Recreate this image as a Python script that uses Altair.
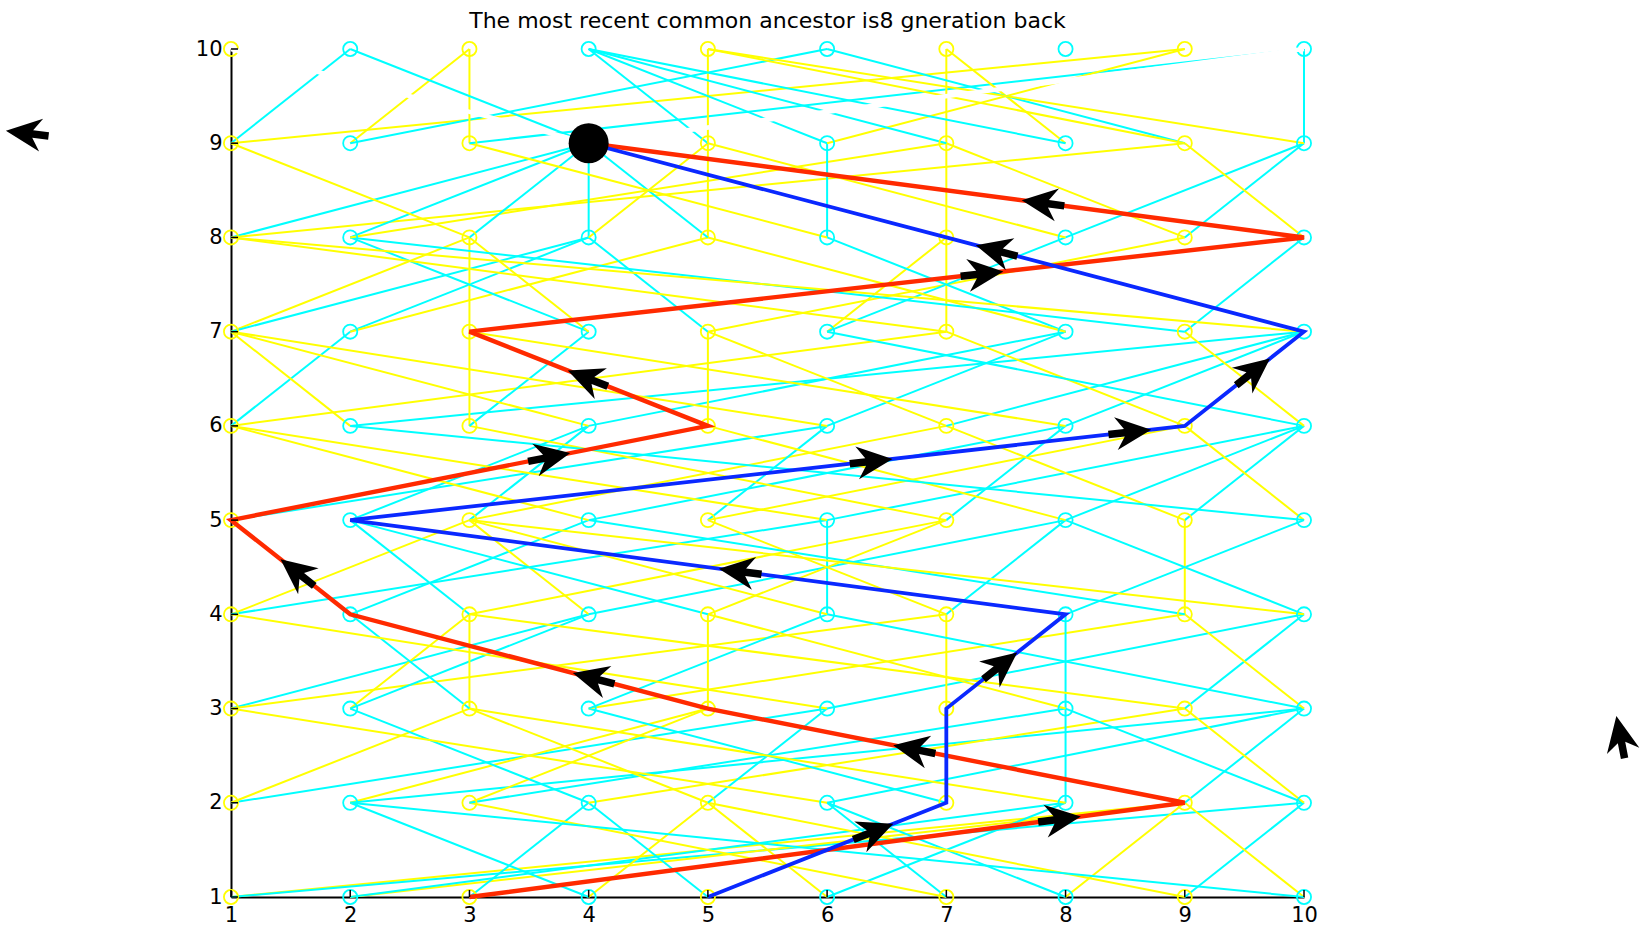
import math
import pandas as pd
import altair as alt

TITLE = "The most recent common ancestor is8 gneration back"
POSITIONS = list(range(1, 11))
GENERATIONS = list(range(1, 11))

# two parents (positions in generation g+1) of every individual 1..10 of generation g
GEN1_PARENT_A = [9, 9, 9, 2, 7, 5, 3, 9, 10, 9]
GEN1_PARENT_B = [10, 8, 4, 5, 4, 8, 6, 6, 5, 2]
GEN2_PARENT_A = [6, 5, 5, 2, 3, 1, 7, 8, 5, 8]
GEN2_PARENT_B = [3, 10, 8, 9, 6, 10, 4, 3, 10, 9]
GEN3_PARENT_A = [4, 3, 3, 9, 5, 1, 7, 8, 10, 6]
GEN3_PARENT_B = [7, 4, 2, 6, 2, 10, 8, 5, 3, 9]
GEN4_PARENT_A = [3, 1, 2, 3, 7, 6, 8, 2, 9, 8]
GEN4_PARENT_B = [6, 4, 7, 8, 2, 3, 5, 10, 4, 3]
GEN5_PARENT_A = [5, 9, 4, 8, 6, 1, 8, 10, 10, 9]
GEN5_PARENT_B = [6, 4, 7, 1, 9, 10, 3, 5, 7, 2]
GEN6_PARENT_A = [2, 1, 3, 1, 5, 8, 5, 10, 10, 6]
GEN6_PARENT_B = [7, 10, 4, 8, 3, 1, 10, 3, 7, 9]
GEN7_PARENT_A = [3, 4, 3, 2, 4, 7, 7, 6, 10, 7]
GEN7_PARENT_B = [4, 5, 10, 3, 9, 8, 1, 5, 2, 1]
GEN8_PARENT_A = [4, 4, 4, 4, 5, 6, 7, 10, 7, 4]
GEN8_PARENT_B = [9, 7, 1, 5, 4, 3, 4, 5, 10, 9]
GEN9_PARENT_A = [2, 3, 3, 2, 4, 4, 7, 7, 6, 10]
GEN9_PARENT_B = [9, 6, 10, 1, 5, 9, 4, 4, 5, 5]

# the two traced lineages (position at generations 1..9)
RED_LINEAGE = [3, 9, 5, 2, 1, 5, 3, 10, 4]
BLUE_LINEAGE = [5, 7, 7, 8, 2, 9, 10, 7, 4]
ANCESTOR = (4, 9)
ERASED_TO = [1, 10]  # white strokes from the ancestor to generation 10

# arrows on the lineages: (lineage, segment starting generation, fraction along it)
ARROW_LINEAGE = ["red", "red", "red", "red", "red", "red", "red", "red",
                 "blue", "blue", "blue", "blue", "blue", "blue", "blue"]
ARROW_SEGMENT = [1, 2, 3, 4, 5, 6, 7, 8, 1, 3, 4, 5, 5, 6, 7]
ARROW_FRACTION = [0.82, 0.56, 0.31, 0.42, 0.66, 0.49, 0.61, 0.36,
                  0.68, 0.43, 0.45, 0.62, 0.93, 0.55, 0.85]
# stray arrows outside the axes (data coords, direction in degrees ccw)
STRAY_X = [-0.68, 12.66]
STRAY_Y = [9.1, 2.66]
STRAY_DIR = [173, 101]

YELLOW, CYAN, RED, BLUE = "#ffff00", "#00ffff", "#ff2a00", "#0a28ff"
W, H = 1073, 848
FONT = "DejaVu Sans"
ARROW = "M1,0L-0.42,-0.66L-0.08,-0.15L-0.72,-0.15L-0.72,0.15L-0.08,0.15L-0.42,0.66Z"

PA = [GEN1_PARENT_A, GEN2_PARENT_A, GEN3_PARENT_A, GEN4_PARENT_A, GEN5_PARENT_A,
      GEN6_PARENT_A, GEN7_PARENT_A, GEN8_PARENT_A, GEN9_PARENT_A]
PB = [GEN1_PARENT_B, GEN2_PARENT_B, GEN3_PARENT_B, GEN4_PARENT_B, GEN5_PARENT_B,
      GEN6_PARENT_B, GEN7_PARENT_B, GEN8_PARENT_B, GEN9_PARENT_B]


def col(p):
    return YELLOW if p % 2 == 1 else CYAN


edges = []
for g in range(1, 10):
    for i in POSITIONS:
        for p in (PA[g - 1][i - 1], PB[g - 1][i - 1]):
            edges.append({"x": i, "y": g, "x2": p, "y2": g + 1, "c": col(p)})
edges = pd.DataFrame(edges)

nodes = pd.DataFrame([{"x": i, "y": g, "c": col(i)} for g in GENERATIONS for i in POSITIONS])

red = pd.DataFrame({"x": RED_LINEAGE, "y": list(range(1, 10)), "o": list(range(9))})
blue = pd.DataFrame({"x": BLUE_LINEAGE, "y": list(range(1, 10)), "o": list(range(9))})
white = pd.DataFrame([{"x": ANCESTOR[0], "y": ANCESTOR[1], "x2": p, "y2": 10} for p in ERASED_TO])
anc = pd.DataFrame([{"x": ANCESTOR[0], "y": ANCESTOR[1]}])

sx, sy = W / 9.0, H / 9.0
arrows = []
for lin, seg, t in zip(ARROW_LINEAGE, ARROW_SEGMENT, ARROW_FRACTION):
    path = RED_LINEAGE if lin == "red" else BLUE_LINEAGE
    x0, x1 = path[seg - 1], path[seg]
    y0, y1 = seg, seg + 1
    ang = math.degrees(math.atan2(-(y1 - y0) * sy, (x1 - x0) * sx)) % 360
    arrows.append({"x": x0 + (x1 - x0) * t, "y": y0 + (y1 - y0) * t, "a": ang})
for x, y, d in zip(STRAY_X, STRAY_Y, STRAY_DIR):
    arrows.append({"x": x, "y": y, "a": (-d) % 360})
arrows = pd.DataFrame(arrows)

ticks = pd.DataFrame({"v": POSITIONS})

xs = alt.Scale(domain=[1, 10], nice=False, zero=False)
ys = alt.Scale(domain=[1, 10], nice=False, zero=False)

axis_common = dict(values=POSITIONS, format="d", tickSize=0, labelFont=FONT, labelFontSize=21,
                   labelColor="black", domainColor="black", domainWidth=2, grid=False,
                   title=None, labelFlush=False, labelOverlap=False)

base_lines = alt.Chart(edges).mark_rule(strokeWidth=2).encode(
    x=alt.X("x:Q", scale=xs, axis=alt.Axis(labelPadding=7, labelAngle=0, **axis_common)),
    y=alt.Y("y:Q", scale=ys, axis=alt.Axis(labelPadding=9, **axis_common)),
    x2="x2:Q", y2="y2:Q",
    color=alt.Color("c:N", scale=None),
)

circles = alt.Chart(nodes).mark_point(shape="circle", filled=False, size=200, strokeWidth=1.8, opacity=1).encode(
    x=alt.X("x:Q", scale=xs), y=alt.Y("y:Q", scale=ys), color=alt.Color("c:N", scale=None))

red_line = alt.Chart(red).mark_line(color=RED, strokeWidth=4.4, strokeJoin="miter").encode(
    x=alt.X("x:Q", scale=xs), y=alt.Y("y:Q", scale=ys), order="o:Q")
blue_line = alt.Chart(blue).mark_line(color=BLUE, strokeWidth=3.8, strokeJoin="miter").encode(
    x=alt.X("x:Q", scale=xs), y=alt.Y("y:Q", scale=ys), order="o:Q")

white_lines = alt.Chart(white).mark_rule(color="white", strokeWidth=4.5).encode(
    x=alt.X("x:Q", scale=xs), y=alt.Y("y:Q", scale=ys), x2="x2:Q", y2="y2:Q")

dot = alt.Chart(anc).mark_point(shape="circle", filled=True, color="black", size=1600, opacity=1).encode(
    x=alt.X("x:Q", scale=xs), y=alt.Y("y:Q", scale=ys))

arrow_marks = alt.Chart(arrows).mark_point(shape=ARROW, filled=True, color="black", size=2500,
                                            opacity=1, strokeWidth=0).encode(
    x=alt.X("x:Q", scale=xs), y=alt.Y("y:Q", scale=ys), angle=alt.Angle("a:Q", scale=None))

xticks = alt.Chart(ticks).mark_rule(color="black", strokeWidth=1.5).encode(
    x=alt.X("v:Q", scale=xs), y=alt.value(H), y2=alt.value(H - 7))
yticks = alt.Chart(ticks).mark_rule(color="black", strokeWidth=1.5).encode(
    y=alt.Y("v:Q", scale=ys), x=alt.value(0), x2=alt.value(7))

chart = alt.layer(base_lines, circles, red_line, blue_line, white_lines, dot, arrow_marks,
                  xticks, yticks).properties(
    width=W, height=H,
    title=alt.Title(TITLE, font=FONT, fontSize=22, fontWeight="normal", color="black",
                    anchor="middle", offset=5),
    autosize=alt.AutoSizeParams(type="none"),
    padding={"left": 231, "top": 49, "right": 336, "bottom": 30},
    background="white",
).configure_view(strokeWidth=0)

chart.save("out.html", embed_options={"renderer": "svg", "actions": False})
